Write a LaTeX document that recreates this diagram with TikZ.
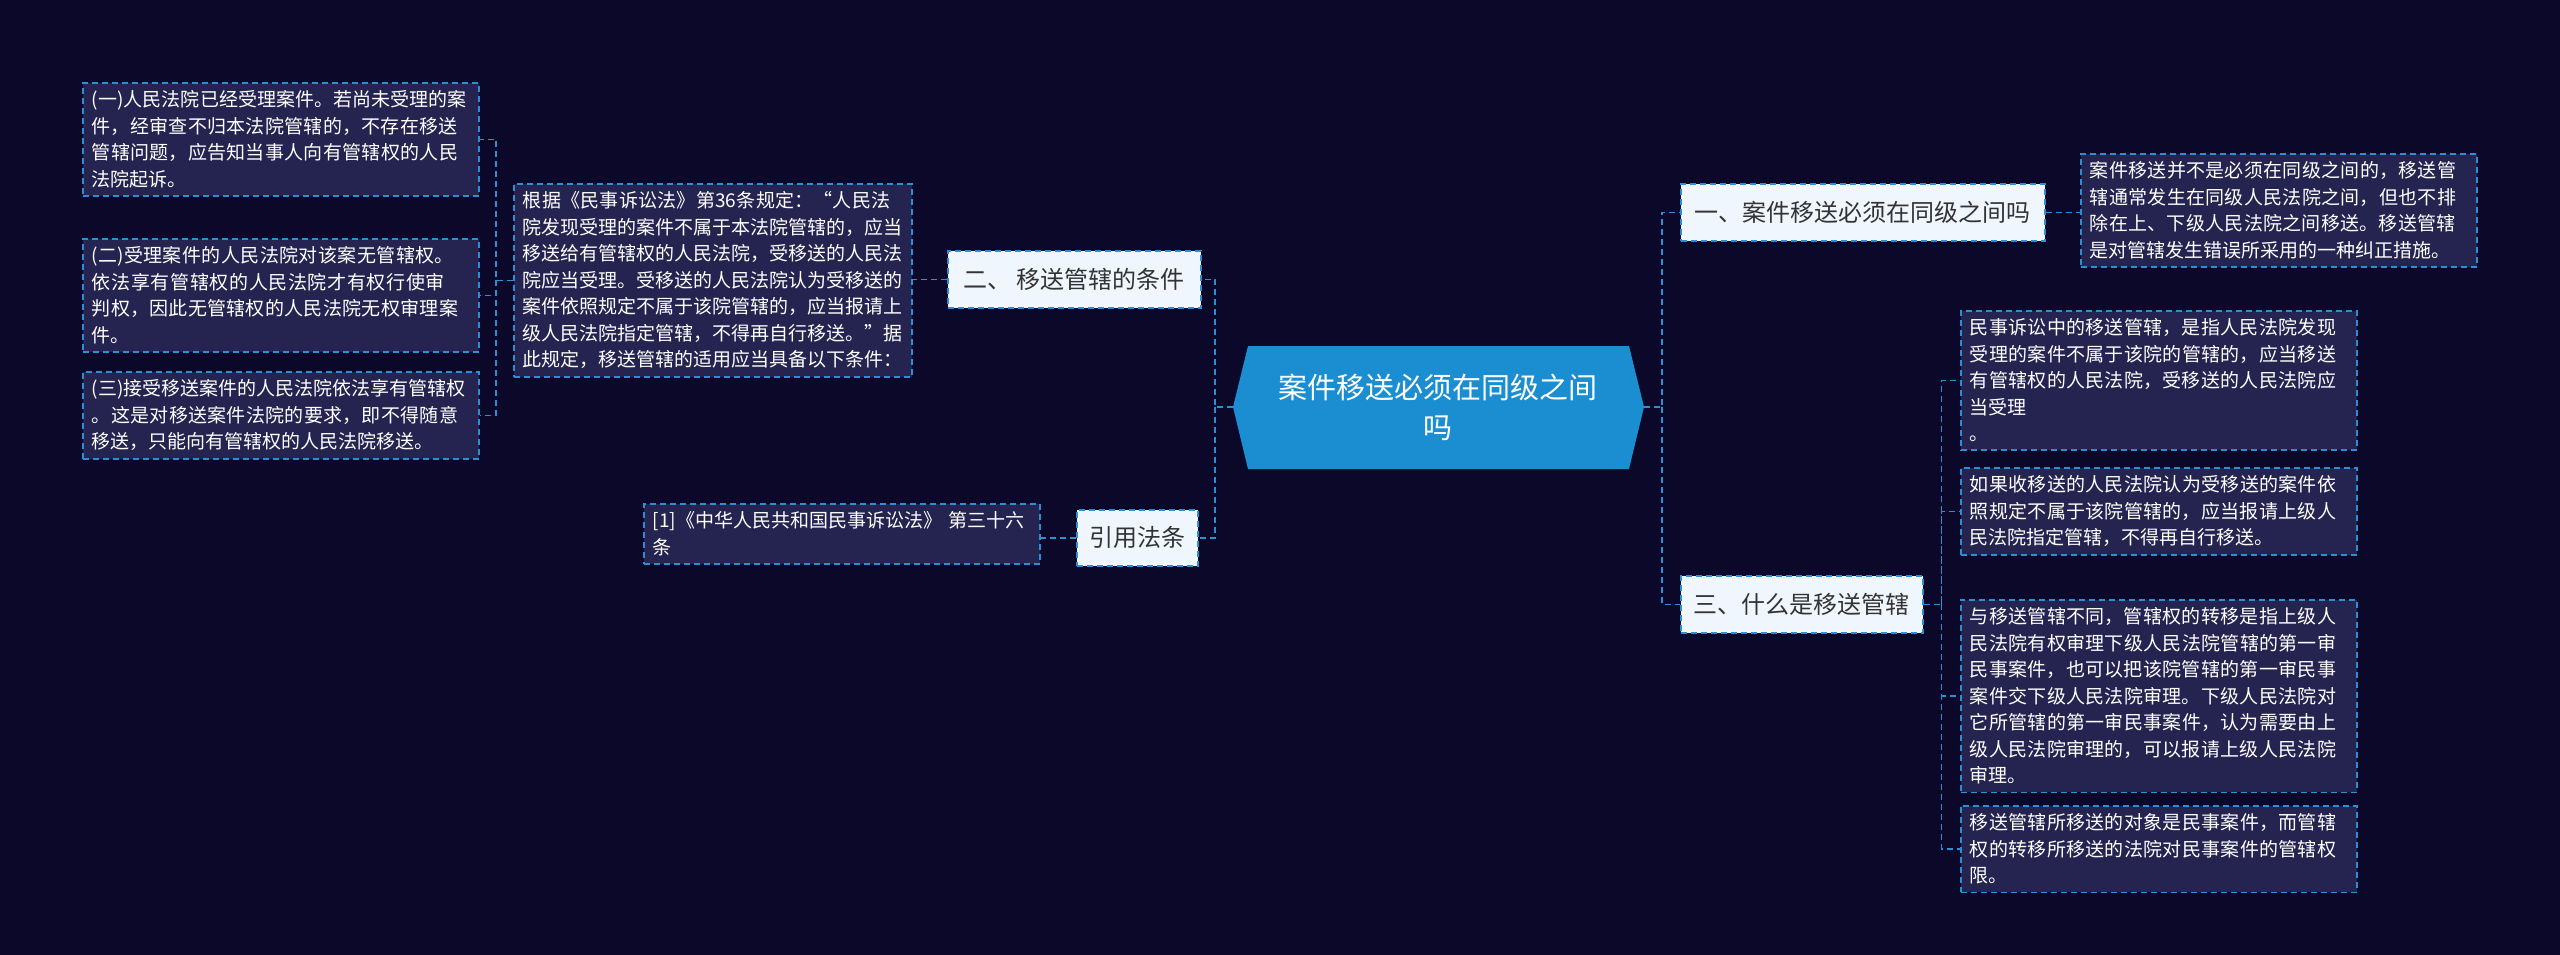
\documentclass[tikz,border=0pt]{standalone}
\usepackage{fontspec}
\setmainfont{Noto Sans CJK SC}
\XeTeXlinebreaklocale "zh"
\XeTeXlinebreakskip=0pt plus 1pt
\usetikzlibrary{shapes.geometric}
\definecolor{bg}{HTML}{0B0829}
\definecolor{boxf}{HTML}{25234F}
\definecolor{edge}{HTML}{2A8FD4}
\definecolor{lab}{HTML}{F0F6FE}
\definecolor{mainc}{HTML}{1A8ED0}
\tikzset{
  leaf/.style={draw=edge,dash pattern=on 6pt off 4pt,line width=1.6pt,fill=boxf,text=white,align=left,anchor=north west,inner xsep=9pt,inner ysep=8pt,font=\fontsize{19}{26.5}\selectfont},
  lbl/.style={draw=edge,dash pattern=on 6pt off 4pt,line width=1.6pt,fill=lab,text=black!80,anchor=north west,font=\fontsize{24}{30}\selectfont,inner sep=0pt},
  con/.style={draw=edge,dash pattern=on 6pt off 4pt,line width=1.6pt}
}
\begin{document}
\begin{tikzpicture}[x=1pt,y=-1pt]
\fill[bg] (0,0) rectangle (2560,955);
\useasboundingbox (0,0) rectangle (2560,955);
% main node
\fill[mainc] (1233,407) -- (1248,346) -- (1629,346) -- (1644,407) -- (1629,469) -- (1248,469) -- cycle;
\node[text=white,align=center,font=\fontsize{29}{40}\selectfont] (main) at (1438,407) {案件移送必须在同级之间\\吗};
\coordinate (mL) at (1233,407);
\coordinate (mR) at (1644,407);
% labels
\node[lbl,minimum width=253pt,minimum height=57pt] (b2) at (947,250) {二、 移送管辖的条件};
\node[lbl,minimum width=121pt,minimum height=56pt] (cite) at (1076,509) {引用法条};
\node[lbl,minimum width=364pt,minimum height=57pt] (b1) at (1680,183) {一、案件移送必须在同级之间吗};
\node[lbl,minimum width=242pt,minimum height=57pt] (b3) at (1680,575) {三、什么是移送管辖};
% leaves
\node[leaf,text width=380pt] (law) at (513,183) {根据《民事诉讼法》第36条规定：“人民法院发现受理的案件不属于本法院管辖的，应当移送给有管辖权的人民法院，受移送的人民法院应当受理。受移送的人民法院认为受移送的案件依照规定不属于该院管辖的，应当报请上级人民法院指定管辖，不得再自行移送。”据此规定，移送管辖的适用应当具备以下条件：};
\node[leaf,text width=378pt] (c1) at (82,82) {(一)人民法院已经受理案件。若尚未受理的案件，经审查不归本法院管辖的，不存在移送管辖问题，应告知当事人向有管辖权的人民法院起诉。};
\node[leaf,text width=378pt] (c2) at (82,238) {(二)受理案件的人民法院对该案无管辖权。依法享有管辖权的人民法院才有权行使审判权，因此无管辖权的人民法院无权审理案件。};
\node[leaf,text width=378pt] (c3) at (82,371) {(三)接受移送案件的人民法院依法享有管辖权\\。这是对移送案件法院的要求，即不得随意移送，只能向有管辖权的人民法院移送。};
\node[leaf,text width=378pt] (ref) at (643,503) {[1]《中华人民共和国民事诉讼法》 第三十六\\条};
\node[leaf,text width=378pt] (t1) at (2080,153) {案件移送并不是必须在同级之间的，移送管辖通常发生在同级人民法院之间，但也不排除在上、下级人民法院之间移送。移送管辖是对管辖发生错误所采用的一种纠正措施。};
\node[leaf,text width=378pt] (r1) at (1960,310) {民事诉讼中的移送管辖，是指人民法院发现受理的案件不属于该院的管辖的，应当移送有管辖权的人民法院，受移送的人民法院应当受理\\。};
\node[leaf,text width=378pt] (r2) at (1960,467) {如果收移送的人民法院认为受移送的案件依照规定不属于该院管辖的，应当报请上级人民法院指定管辖，不得再自行移送。};
\node[leaf,text width=378pt] (r3) at (1960,599) {与移送管辖不同，管辖权的转移是指上级人民法院有权审理下级人民法院管辖的第一审民事案件，也可以把该院管辖的第一审民事案件交下级人民法院审理。下级人民法院对它所管辖的第一审民事案件，认为需要由上级人民法院审理的，可以报请上级人民法院审理。};
\node[leaf,text width=378pt] (r4) at (1960,805) {移送管辖所移送的对象是民事案件，而管辖权的转移所移送的法院对民事案件的管辖权限。};
% connectors
\draw[con] (mL) -- ++(-18,0) coordinate (sL) |- (b2.east);
\draw[con] (sL) |- (cite.east);
\draw[con] (mR) -- ++(18,0) coordinate (sR) |- (b1.west);
\draw[con] (sR) |- (b3.west);
\draw[con] (b2.west) -- (law.east |- b2.west);
\draw[con] (law.west) -- ++(-17,0) coordinate (sl2) |- (c1.east);
\draw[con] (sl2) |- (c2.east);
\draw[con] (sl2) |- (c3.east);
\draw[con] (cite.west) -- (ref.east |- cite.west);
\draw[con] (b1.east) -- (t1.west |- b1.east);
\draw[con] (b3.east) -- ++(18,0) coordinate (sr2) |- (r1.west);
\draw[con] (sr2) |- (r2.west);
\draw[con] (sr2) |- (r3.west);
\draw[con] (sr2) |- (r4.west);
\end{tikzpicture}
\end{document}
